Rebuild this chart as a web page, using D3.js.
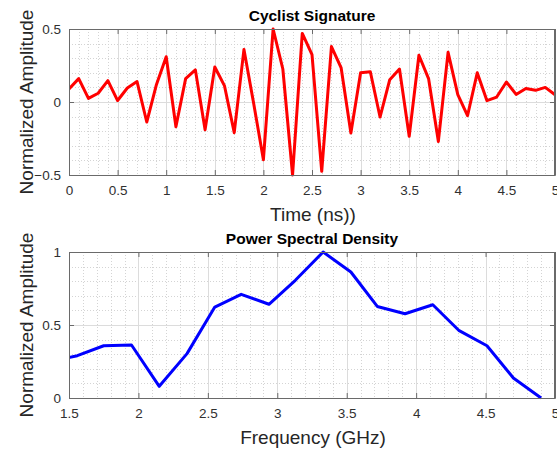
<!DOCTYPE html>
<html>
<head>
<meta charset="utf-8">
<script src="https://cdn.jsdelivr.net/npm/d3@7"></script>
<style>
  html, body { margin: 0; padding: 0; background: #fff; }
  svg { display: block; }
  text { font-family: "Liberation Sans", Arial, Helvetica, sans-serif; }
</style>
</head>
<body>
<svg id="chart" width="557" height="452"></svg>
<script>
// ---- Data ----
const sigTimes = [0,0.1,0.2,0.3,0.4,0.5,0.6,0.7,0.8,0.9,1.0,1.1,1.2,1.3,1.4,1.5,1.6,1.7,1.8,1.9,2.0,2.1,2.2,2.3,2.4,2.5,2.6,2.7,2.8,2.9,3.0,3.1,3.2,3.3,3.4,3.5,3.6,3.7,3.8,3.9,4.0,4.1,4.2,4.3,4.4,4.5,4.6,4.7,4.8,4.9,5.0];
const sigValues = [0.09,0.16,0.025,0.06,0.146,0.01,0.096,0.14,-0.137,0.12,0.31,-0.17,0.16,0.22,-0.19,0.24,0.11,-0.21,0.36,-0.01,-0.395,0.5,0.226,-0.5,0.47,0.324,-0.475,0.38,0.233,-0.212,0.2,0.207,-0.103,0.153,0.226,-0.235,0.32,0.158,-0.27,0.34,0.05,-0.094,0.2,0.009,0.034,0.137,0.052,0.093,0.08,0.1,0.05];

const psdFreqs = [1.36,1.56,1.75,1.95,2.15,2.35,2.55,2.74,2.94,3.13,3.33,3.53,3.72,3.92,4.12,4.31,4.51,4.70,4.90];
const psdValues = [0.25,0.29,0.358,0.363,0.08,0.304,0.623,0.71,0.642,0.806,1.0,0.863,0.627,0.577,0.639,0.461,0.358,0.137,0.0];

const topXTicks = [0,0.5,1,1.5,2,2.5,3,3.5,4,4.5,5];
const topYTicks = [-0.5,0,0.5];
const botXTicks = [1.5,2,2.5,3,3.5,4,4.5,5];
const botYTicks = [0,0.5,1];

const svg = d3.select("#chart");

function panel(cfg) {
  const { id, left, right, top, bottom, xDomain, yDomain, xTicks, yTicks,
          xMinorStep, yMinorStep, xs, ys, color, title, xLabel } = cfg;
  const x = d3.scaleLinear().domain(xDomain).range([left, right]);
  const y = d3.scaleLinear().domain(yDomain).range([bottom, top]);
  const g = svg.append("g");

  // minor grid
  const xMinor = d3.range(Math.round((xDomain[1]-xDomain[0])/xMinorStep)+1)
    .map(i => +(xDomain[0] + i*xMinorStep).toFixed(6))
    .filter(v => !xTicks.some(t => Math.abs(t-v) < 1e-6));
  const yMinor = d3.range(Math.round((yDomain[1]-yDomain[0])/yMinorStep)+1)
    .map(i => +(yDomain[0] + i*yMinorStep).toFixed(6))
    .filter(v => !yTicks.some(t => Math.abs(t-v) < 1e-6));
  g.selectAll(null).data(xMinor).enter().append("line")
    .attr("x1", d => Math.round(x(d))+0.5).attr("x2", d => Math.round(x(d))+0.5)
    .attr("y1", top).attr("y2", bottom)
    .attr("stroke", "#d4d4d4").attr("stroke-width", 1).attr("stroke-dasharray", "1,2");
  g.selectAll(null).data(yMinor).enter().append("line")
    .attr("y1", d => Math.round(y(d))+0.5).attr("y2", d => Math.round(y(d))+0.5)
    .attr("x1", left).attr("x2", right)
    .attr("stroke", "#d4d4d4").attr("stroke-width", 1).attr("stroke-dasharray", "1,2");

  // major grid
  g.selectAll(null).data(xTicks).enter().append("line")
    .attr("x1", d => Math.round(x(d))+0.5).attr("x2", d => Math.round(x(d))+0.5)
    .attr("y1", top).attr("y2", bottom)
    .attr("stroke", "#dcdcdc").attr("stroke-width", 1);
  g.selectAll(null).data(yTicks).enter().append("line")
    .attr("y1", d => Math.round(y(d))+0.5).attr("y2", d => Math.round(y(d))+0.5)
    .attr("x1", left).attr("x2", right)
    .attr("stroke", "#dcdcdc").attr("stroke-width", 1);

  // data line
  svg.append("clipPath").attr("id", id+"clip").append("rect")
    .attr("x", left).attr("y", top-3).attr("width", right-left).attr("height", bottom-top+6);
  const line = d3.line().x((d,i) => x(xs[i])).y(d => y(d));
  g.append("path").datum(ys)
    .attr("clip-path", `url(#${id}clip)`)
    .attr("d", line).attr("fill", "none")
    .attr("stroke", color).attr("stroke-width", 3)
    .attr("stroke-linejoin", "round");

  // axes (box with inward ticks)
  const tickLen = 5;
  const axisColor = "#6a6a6a";
  const xb = d3.axisBottom(x).tickValues(xTicks).tickSizeInner(-tickLen).tickSizeOuter(0).tickPadding(10).tickFormat(d3.format("~g"));
  const xt = d3.axisTop(x).tickValues(xTicks).tickSizeInner(-tickLen).tickSizeOuter(0).tickFormat("");
  const yl = d3.axisLeft(y).tickValues(yTicks).tickSizeInner(-tickLen).tickSizeOuter(0).tickPadding(8).tickFormat(d3.format("~g"));
  const yr = d3.axisRight(y).tickValues(yTicks).tickSizeInner(-tickLen).tickSizeOuter(0).tickFormat("");
  const axes = [
    g.append("g").attr("transform", `translate(0,${bottom})`).call(xb),
    g.append("g").attr("transform", `translate(0,${top})`).call(xt),
    g.append("g").attr("transform", `translate(${left},0)`).call(yl),
    g.append("g").attr("transform", `translate(${right},0)`).call(yr)
  ];
  axes.forEach(a => {
    a.select(".domain").attr("stroke", axisColor);
    a.selectAll(".tick line").attr("stroke", axisColor);
    a.selectAll(".tick text").attr("fill", "#303030").style("font-size", "13.5px")
      .style("font-family", '"Liberation Sans", Arial, Helvetica, sans-serif');
  });
  // box border crisp
  g.append("rect").attr("x", left+0.5).attr("y", top+0.5)
    .attr("width", right-left-1).attr("height", bottom-top)
    .attr("fill", "none").attr("stroke", axisColor).attr("stroke-width", 1);

  // title
  g.append("text").attr("x", (left+right)/2).attr("y", top-8)
    .attr("text-anchor", "middle").style("font-weight", "bold").style("font-size", "15.5px")
    .attr("fill", "#000").text(title);
  // x label
  g.append("text").attr("x", (left+right)/2 + 1).attr("y", bottom + 46)
    .attr("text-anchor", "middle").style("font-size", "19px").attr("fill", "#262626").text(xLabel);
  // y label
  g.append("text").attr("transform", `translate(33,${(top+bottom)/2}) rotate(-90)`)
    .attr("text-anchor", "middle").style("font-size", "19px").attr("fill", "#262626").text("Normalized Amplitude");
}

panel({
  id: "sig", left: 69, right: 555, top: 29, bottom: 175,
  xDomain: [0, 5], yDomain: [-0.5, 0.5], xTicks: topXTicks, yTicks: topYTicks,
  xMinorStep: 0.1, yMinorStep: 0.1, xs: sigTimes, ys: sigValues, color: "#ff0000",
  title: "Cyclist Signature", xLabel: "Time (ns))"
});
panel({
  id: "psd", left: 69, right: 555, top: 252, bottom: 398,
  xDomain: [1.5, 5], yDomain: [0, 1], xTicks: botXTicks, yTicks: botYTicks,
  xMinorStep: 0.1, yMinorStep: 0.1, xs: psdFreqs, ys: psdValues, color: "#0000ff",
  title: "Power Spectral Density", xLabel: "Frequency (GHz)"
});
</script>
</body>
</html>
